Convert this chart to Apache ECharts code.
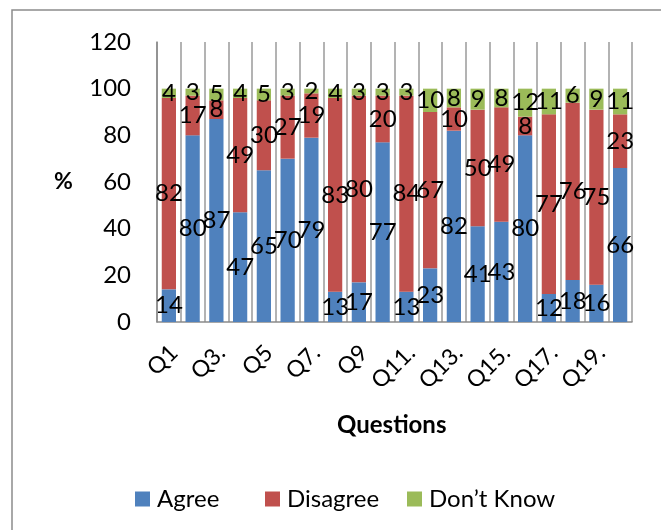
<!DOCTYPE html>
<html>
<head>
<meta charset="utf-8">
<script src="https://cdn.jsdelivr.net/npm/echarts@6/dist/echarts.min.js"></script>
<style>
  html, body { margin: 0; padding: 0; background: #fff; }
  #chart { width: 661px; height: 530px; }
</style>
</head>
<body>
<div id="chart"></div>
<script>
// Survey responses per question (percent)
const questions = ['Q1', 'Q2', 'Q3.', 'Q4', 'Q5', 'Q6', 'Q7.', 'Q8', 'Q9', 'Q10',
                   'Q11.', 'Q12', 'Q13.', 'Q14', 'Q15.', 'Q16', 'Q17.', 'Q18', 'Q19.', 'Q20'];
const agree     = [14, 80, 87, 47, 65, 70, 79, 13, 17, 77, 13, 23, 82, 41, 43, 80, 12, 18, 16, 66];
const disagree  = [82, 17,  8, 49, 30, 27, 19, 83, 80, 20, 84, 67, 10, 50, 49,  8, 77, 76, 75, 23];
const dontKnow  = [ 4,  3,  5,  4,  5,  3,  2,  4,  3,  3,  3, 10,  8,  9,  8, 12, 11,  6,  9, 11];
const yTicks    = { min: 0, max: 120, step: 20 };

const FONT = 'Lato, "Open Sans", sans-serif';
const colors = { agree: '#4F81BD', disagree: '#C0504D', dontKnow: '#9BBB59' };

const chart = echarts.init(document.getElementById('chart'), null, { renderer: 'canvas' });

function barSeries(name, values, color) {
  return {
    name: name,
    type: 'bar',
    stack: 'total',
    data: values,
    barWidth: '60%',
    itemStyle: { color: color },
    label: {
      show: true,
      position: 'inside',
      color: '#000',
      fontFamily: FONT,
      fontSize: 24
    }
  };
}

function legendItem(name, left) {
  return {
    data: [name],
    left: left,
    top: 487,
    icon: 'rect',
    itemWidth: 15,
    itemHeight: 15,
    itemGap: 0,
    padding: 0,
    textStyle: { fontFamily: FONT, fontSize: 24, color: '#000', padding: [0, 0, 0, 2] }
  };
}

chart.setOption({
  backgroundColor: '#fff',
  animation: false,
  color: [colors.agree, colors.disagree, colors.dontKnow],
  grid: { left: 157, right: 29, top: 42, bottom: 208, containLabel: false },
  legend: [
    legendItem('Agree', 135),
    legendItem('Disagree', 265),
    legendItem('Don\u2019t Know', 407)
  ],
  xAxis: {
    type: 'category',
    data: questions,
    boundaryGap: true,
    axisLine: { show: true, lineStyle: { color: '#8a8a8a', width: 1.5 } },
    axisTick: { show: false },
    splitLine: { show: true, interval: 0, lineStyle: { color: '#9a9a9a', width: 1.5 } },
    axisLabel: {
      interval: 1,
      rotate: 45,
      margin: 32,
      padding: [0, -7, 0, 0],
      color: '#000',
      fontFamily: FONT,
      fontSize: 23
    }
  },
  yAxis: {
    type: 'value',
    min: yTicks.min,
    max: yTicks.max,
    interval: yTicks.step,
    axisLine: { show: true, lineStyle: { color: '#8a8a8a', width: 1.5 } },
    axisTick: { show: false },
    splitLine: { show: false },
    axisLabel: { margin: 26, color: '#000', fontFamily: FONT, fontSize: 24 }
  },
  series: [
    barSeries('Agree', agree, colors.agree),
    barSeries('Disagree', disagree, colors.disagree),
    barSeries('Don\u2019t Know', dontKnow, colors.dontKnow)
  ],
  graphic: [
    {
      type: 'rect',
      shape: { x: 12, y: 10, width: 700, height: 600 },
      style: { fill: 'none', stroke: '#8c8c8c', lineWidth: 1.5 },
      silent: true
    },
    {
      type: 'text',
      left: 54, top: 170,
      style: { text: '%', font: 'bold 23px ' + FONT, fill: '#000' }
    },
    {
      type: 'text',
      left: 337, top: 413,
      style: { text: 'Questions', font: 'bold 24px ' + FONT, fill: '#000' }
    }
  ]
});
</script>
</body>
</html>
